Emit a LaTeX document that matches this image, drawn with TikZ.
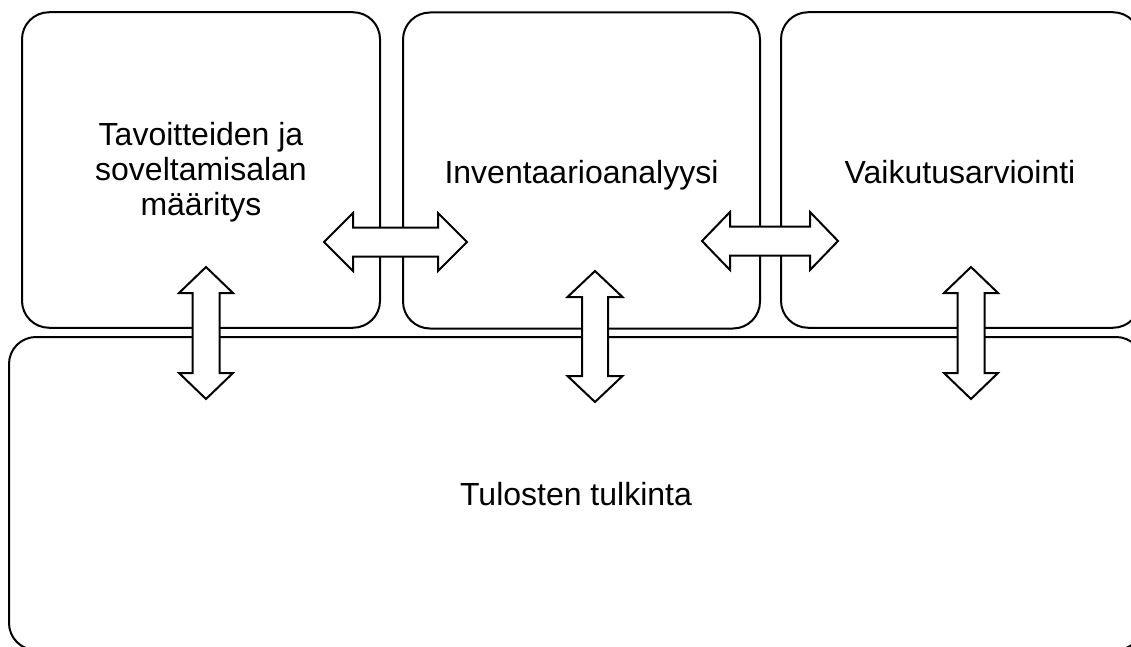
\documentclass[tikz,border=0pt]{standalone}
\usepackage{fontspec}
\setmainfont{Liberation Sans}
\begin{document}
\begin{tikzpicture}[x=1pt,y=-1pt,
  box/.style={draw, line width=2pt, rounded corners=27pt, inner sep=0pt, minimum width=#1},
  lbl/.style={inner sep=0pt, font=\fontsize{32pt}{35pt}\selectfont, align=center},
  blockarrow/.style={draw, line width=2pt, fill=white, line join=miter},
  pics/dblarrow/.style n args={4}{code={
    \draw[blockarrow] (-#1,0) -- (-#1+#2,-#3) -- (-#1+#2,-#4) -- (#1-#2,-#4) -- (#1-#2,-#3)
      -- (#1,0) -- (#1-#2,#3) -- (#1-#2,#4) -- (-#1+#2,#4) -- (-#1+#2,#3) -- cycle;
  }}
]
\useasboundingbox (0,0) rectangle (1131,647);
\clip (0,0) rectangle (1131,647);
% boxes
\node[box=358pt, minimum height=315.5pt] (b1) at (201,170) {};
\node[box=357pt, minimum height=316pt] (b2) at (581.5,170.5) {};
\node[box=359pt, minimum height=315.5pt] (b3) at (960.5,170) {};
\node[box=1134pt, minimum height=313pt] (b4) at (576,493.5) {};
% labels
\node[lbl, anchor=base] (t1) at (201,215) {Tavoitteiden ja\\soveltamisalan\\määritys};
\node[lbl, anchor=base] (t2) at (581.5,183) {Inventaarioanalyysi};
\node[lbl, anchor=base] (t3) at (960,183) {Vaikutusarviointi};
\node[lbl, anchor=base] (t4) at (576,505) {Tulosten tulkinta};
% block arrows
\pic at (395.5,242) {dblarrow={71.5}{29}{29}{14.5}};
\pic at (770,241) {dblarrow={68}{28}{29}{14.5}};
\pic[rotate=90] at (206,333) {dblarrow={66}{26}{27}{13.5}};
\pic[rotate=90] at (595,336.5) {dblarrow={65.5}{26}{27.5}{13}};
\pic[rotate=90] at (971,333) {dblarrow={66}{26}{27}{13.5}};
\end{tikzpicture}
\end{document}
